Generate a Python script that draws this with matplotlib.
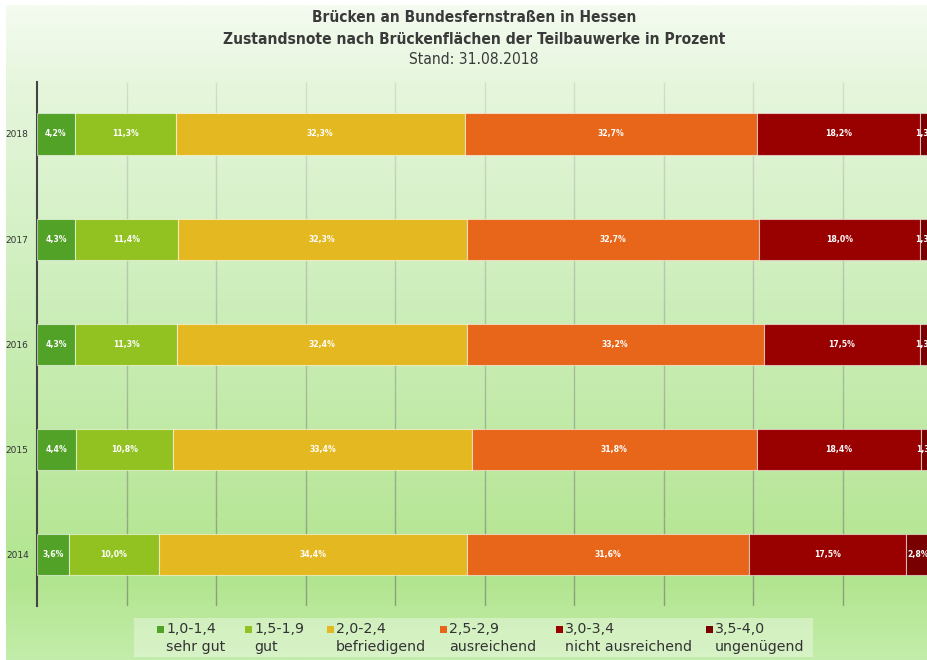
import numpy as np
import matplotlib
matplotlib.use("Agg")
import matplotlib.pyplot as plt
from matplotlib.colors import LinearSegmentedColormap, to_rgb
from matplotlib.patches import Rectangle

years = ["2014", "2015", "2016", "2017", "2018"]
ranges = ["1,0-1,4", "1,5-1,9", "2,0-2,4", "2,5-2,9", "3,0-3,4", "3,5-4,0"]
grades = ["sehr gut", "gut", "befriedigend", "ausreichend", "nicht ausreichend", "ungenügend"]
colors = ["#52a228", "#92c222", "#e4b820", "#e7661a", "#990000", "#780000"]

sehr_gut = [3.6, 4.4, 4.3, 4.3, 4.2]
gut = [10.0, 10.8, 11.3, 11.4, 11.3]
befriedigend = [34.4, 33.4, 32.4, 32.3, 32.3]
ausreichend = [31.6, 31.8, 33.2, 32.7, 32.7]
nicht_ausreichend = [17.5, 18.4, 17.5, 18.0, 18.2]
ungenuegend = [2.8, 1.3, 1.3, 1.3, 1.3]
series = [sehr_gut, gut, befriedigend, ausreichend, nicht_ausreichend, ungenuegend]

W, H = 928, 660
fig = plt.figure(figsize=(W / 100, H / 100), dpi=100)
fig.patch.set_facecolor("white")

# background gradient panel
bg = fig.add_axes([6 / W, 0, 1 - 6 / W, 655 / H], zorder=0)
cmap = LinearSegmentedColormap.from_list(
    "bg", [(0, "#f4fbf0"), (0.12, "#e6f6dd"), (0.45, "#cdeebb"), (0.88, "#b2e58f"), (1, "#c3edaa")])
grad = np.linspace(0, 1, 256).reshape(-1, 1)
bg.imshow(grad, aspect="auto", cmap=cmap, extent=[0, 1, 0, 1], origin="upper")
bg.set_axis_off()

# main axes
x0, x1 = 37, 932
ytop, ybot = 82, 606
ax = fig.add_axes([x0 / W, (H - ybot) / H, (x1 - x0) / W, (ybot - ytop) / H], zorder=2)
ax.set_facecolor("none")
ypos = np.arange(len(years))
ax.set_xlim(0, 100)
ax.set_ylim(-0.485, 4.494)

# gridlines with vertical colour gradient
top_c = np.array(to_rgb("#d3ddcb"))
bot_c = np.array(to_rgb("#85a076"))
ylo, yhi = ax.get_ylim()
nseg = 60
edges = np.linspace(ylo, yhi, nseg + 1)
for gx in range(10, 100, 10):
    for i in range(nseg):
        t = (edges[i] - ylo) / (yhi - ylo)
        c = bot_c * (1 - t) + top_c * t
        ax.plot([gx, gx], [edges[i], edges[i + 1]], color=c, lw=1.0, zorder=1,
                solid_capstyle="butt")

left = np.zeros(len(years))
for vals, col in zip(series, colors):
    vals = np.array(vals)
    ax.barh(ypos, vals, left=left, height=0.39, color=col,
            edgecolor=(1, 1, 1, 0.55), linewidth=0.8, zorder=3)
    for yi, (l, v) in enumerate(zip(left, vals)):
        ax.text(l + v / 2, yi, f"{v:.1f}".replace(".", ",") + "%",
                ha="center", va="center", color="white", fontsize=6.2,
                fontweight="bold", fontstretch="condensed", zorder=4, clip_on=False)
    left += vals

ax.set_yticks(ypos)
ax.set_yticklabels(years, fontsize=6.5, color="#333333")
ax.tick_params(axis="y", length=0, pad=6)
ax.set_xticks([])
for s in ["top", "right", "bottom"]:
    ax.spines[s].set_visible(False)
ax.spines["left"].set_color("#444444")
ax.spines["left"].set_linewidth(1.5)

# title
tx = 474 / W
fig.text(tx, 1 - 18 / H, "Brücken an Bundesfernstraßen in Hessen", ha="center", va="center",
         fontsize=11.1, fontweight="bold", fontstretch="condensed", color="#3a3a3a")
fig.text(tx, 1 - 40 / H, "Zustandsnote nach Brückenflächen der Teilbauwerke in Prozent", ha="center",
         va="center", fontsize=11.2, fontweight="bold", fontstretch="condensed", color="#3a3a3a")
fig.text(tx, 1 - 60 / H, "Stand: 31.08.2018", ha="center", va="center",
         fontsize=11.2, fontstretch="condensed", color="#3a3a3a")

# legend box
fig.patches.append(Rectangle((134 / W, (H - 657) / H), (813 - 134) / W, (657 - 618) / H,
                             transform=fig.transFigure, facecolor="#ffffff", alpha=0.35,
                             edgecolor="none", zorder=1))
leg_x = [157, 245, 327, 440, 556, 706]
for lx, r, g, col in zip(leg_x, ranges, grades, colors):
    fig.patches.append(Rectangle((lx / W, (H - 633) / H), 7 / W, 7 / H, transform=fig.transFigure,
                                 facecolor=col, edgecolor="none", zorder=3))
    fig.text((lx + 9) / W, 1 - 629 / H, r, ha="left",
             va="center", fontsize=10.2, color="#333333", zorder=3)
    fig.text((lx + 9) / W, 1 - 647 / H, g, ha="left", va="center", fontsize=10.2,
             color="#333333", zorder=3)

fig.savefig("out.png", dpi=100)
